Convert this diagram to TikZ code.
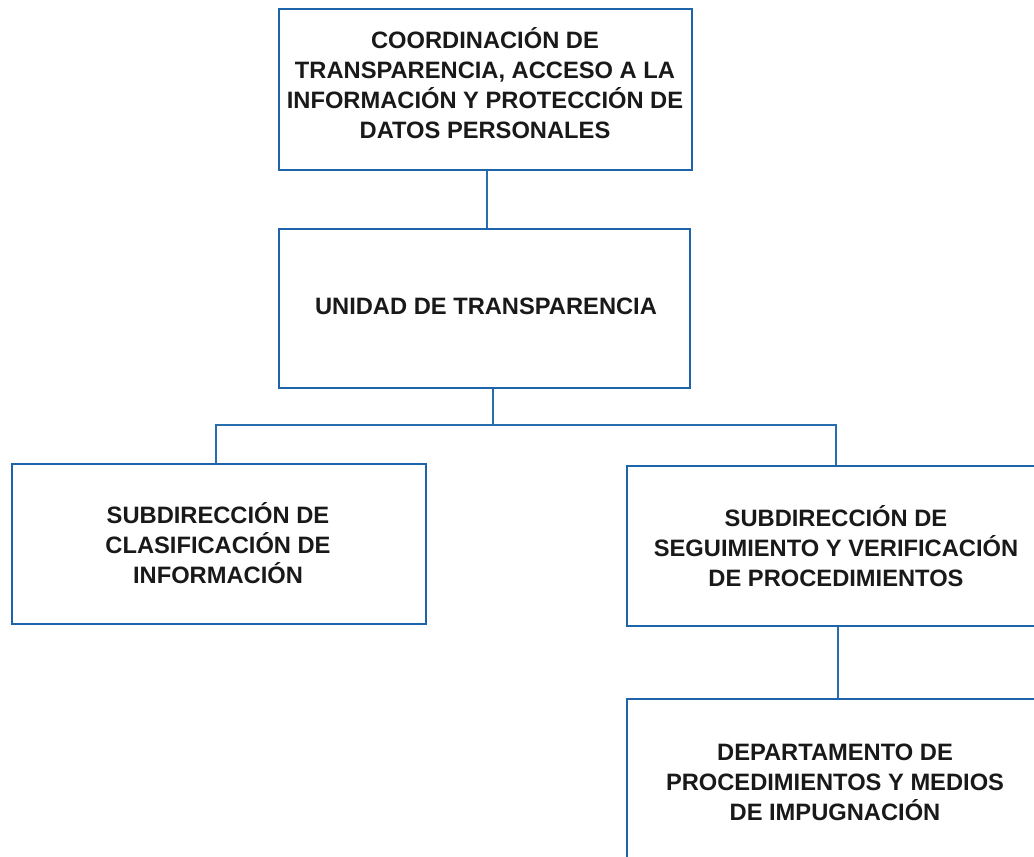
\documentclass[tikz,border=0pt]{standalone}
\usepackage{fontspec}
\setmainfont{Liberation Sans}
\definecolor{boxblue}{RGB}{30,100,170}
\definecolor{linkblue}{RGB}{40,110,175}
\definecolor{txt}{RGB}{25,25,25}
\begin{document}
\begin{tikzpicture}[x=1pt,y=-1pt,
  orgbox/.style={draw=boxblue, line width=2.6pt, fill=white, inner sep=0pt},
  lbl/.style={text=txt, align=center, inner sep=0pt, font=\fontsize{23.7}{30}\selectfont\bfseries},
  link/.style={draw=linkblue, line width=1.6pt}]
\useasboundingbox (0,0) rectangle (1034,857);
\clip (0,0) rectangle (1034,857);
% boxes
\node[orgbox, minimum width=413pt, minimum height=161pt] (coord) at (485.5,89.5) {};
\node[orgbox, minimum width=411pt, minimum height=159pt] (unidad) at (484.5,308.5) {};
\node[orgbox, minimum width=414pt, minimum height=160pt] (clasif) at (219,544) {};
\node[orgbox, minimum width=420pt, minimum height=160pt] (segui) at (837,546) {};
\node[orgbox, minimum width=420pt, minimum height=180pt] (depto) at (837,789) {};
% labels
\node[lbl] (coordtxt) at (485,83) {COORDINACIÓN DE\\TRANSPARENCIA, ACCESO A LA\\INFORMACIÓN Y PROTECCIÓN DE\\DATOS PERSONALES};
\node[lbl] (unidadtxt) at (486,306) {UNIDAD DE TRANSPARENCIA};
\node[lbl] (clasiftxt) at (218,543.5) {SUBDIRECCIÓN DE\\CLASIFICACIÓN DE\\INFORMACIÓN};
\node[lbl] (seguitxt) at (836,546.5) {SUBDIRECCIÓN DE\\SEGUIMIENTO Y VERIFICACIÓN\\DE PROCEDIMIENTOS};
\node[lbl] (deptotxt) at (835,782.5) {DEPARTAMENTO DE\\PROCEDIMIENTOS Y MEDIOS\\DE IMPUGNACIÓN};
% connectors
\coordinate (bus) at (493,425);
\draw[link] (coord.south -| 487,0) -- (unidad.north -| 487,0);
\draw[link] (unidad.south -| bus) -- (bus);
\draw[link] (clasif.north -| 216,0) |- (bus) -| (segui.north -| 836,0);
\draw[link] (segui.south -| 838,0) -- (depto.north -| 838,0);
\end{tikzpicture}
\end{document}
